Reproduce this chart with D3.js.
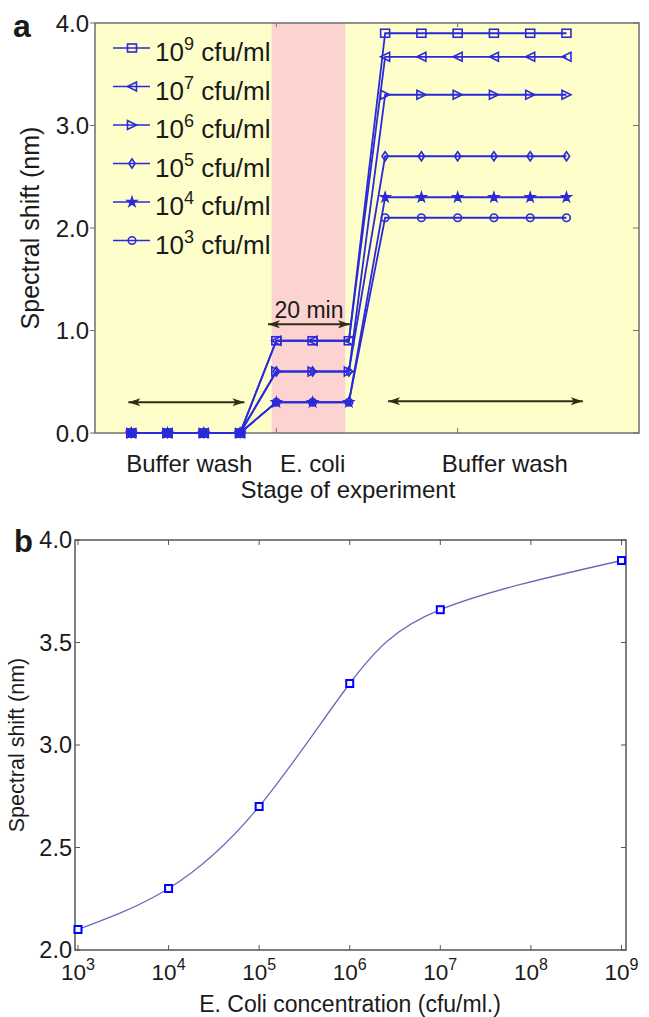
<!DOCTYPE html>
<meta charset="utf-8">
<script src="https://d3js.org/d3.v7.min.js"></script>
<style>
body{margin:0;background:#fff}
text{font-family:"Liberation Sans",Arial,Helvetica,sans-serif;fill:#1a1a1a}
</style>
<body>
<svg width="649" height="1017"></svg>
<script>

// ---- panel a data ----
let stageX = [1,2,3,4,5,6,7,8,9,10,11,12,13]
let seriesExp = ['9','7','6','5','4','3']
let seriesMarker = ['square','left','right','diamond','star','circle']
let shift1e9 = [0,0,0,0,0.9,0.9,0.9,3.9,3.9,3.9,3.9,3.9,3.9]
let shift1e7 = [0,0,0,0,0.9,0.9,0.9,3.67,3.67,3.67,3.67,3.67,3.67]
let shift1e6 = [0,0,0,0,0.6,0.6,0.6,3.3,3.3,3.3,3.3,3.3,3.3]
let shift1e5 = [0,0,0,0,0.6,0.6,0.6,2.7,2.7,2.7,2.7,2.7,2.7]
let shift1e4 = [0,0,0,0,0.3,0.3,0.3,2.3,2.3,2.3,2.3,2.3,2.3]
let shift1e3 = [0,0,0,0,0.3,0.3,0.3,2.1,2.1,2.1,2.1,2.1,2.1]
let seriesA = [shift1e9,shift1e7,shift1e6,shift1e5,shift1e4,shift1e3]
let yTicksA = [0,1,2,3,4]
let xTicksA = [5,10]
let stageLabels = ['Buffer wash','E. coli','Buffer wash']
let stageLabelX = [2.6,6,11.3]
let ecoliBand = [4.87,6.9]
// arrows: [x1, x2, y] in data units
let arrowsA = [[0.92,4.12,0.3],[4.77,7.03,1.06],[8.08,13.45,0.31]]

// ---- panel b data ----
let conc = [1e3,1e4,1e5,1e6,1e7,1e9]
let shiftB = [2.1,2.3,2.7,3.3,3.66,3.9]
let xTicksB = [1e3,1e4,1e5,1e6,1e7,1e8,1e9]
let yTicksB = [2.0,2.5,3.0,3.5,4.0]

let blue = '#2a2ad8', axisCol = '#6f6f6f', arrowCol = '#2e2e12'
let svg = d3.select('svg')
let defs = svg.append('defs')
defs.append('marker').attr('id','ah').attr('viewBox','0 0 12 8')
    .attr('refX',12).attr('refY',4).attr('markerUnits','userSpaceOnUse')
    .attr('markerWidth',13).attr('markerHeight',8).attr('orient','auto-start-reverse')
  .append('path').attr('d','M0,0 L12,4 L0,8 L3,4 Z').attr('fill',arrowCol)

// ================= panel a =================
let xA = d3.scaleLinear().domain([0,15]).range([95,639])
let yA = d3.scaleLinear().domain([0,4]).range([433,23])
let ga = svg.append('g')

ga.append('rect').attr('x',xA(0)).attr('y',yA(4)).attr('width',xA(15)-xA(0)).attr('height',yA(0)-yA(4))
    .attr('fill','#fefecb')
ga.append('rect').attr('x',xA(ecoliBand[0])).attr('y',yA(4)).attr('width',xA(ecoliBand[1])-xA(ecoliBand[0]))
    .attr('height',yA(0)-yA(4)).attr('fill','#fcd3d0')

// box + ticks
ga.append('rect').attr('x',xA(0)).attr('y',yA(4)).attr('width',xA(15)-xA(0)).attr('height',yA(0)-yA(4))
    .attr('fill','none').attr('stroke',axisCol).attr('stroke-width',1.5)
xTicksA.forEach(t=>{
    ga.append('line').attr('x1',xA(t)).attr('x2',xA(t)).attr('y1',yA(4)).attr('y2',yA(4)+4).attr('stroke',axisCol)
    ga.append('line').attr('x1',xA(t)).attr('x2',xA(t)).attr('y1',yA(0)).attr('y2',yA(0)-5).attr('stroke',axisCol)
})
yTicksA.forEach(t=>{
    ga.append('line').attr('x1',xA(0)-5).attr('x2',xA(0)).attr('y1',yA(t)).attr('y2',yA(t)).attr('stroke',axisCol)
    ga.append('line').attr('x1',xA(15)-6).attr('x2',xA(15)).attr('y1',yA(t)).attr('y2',yA(t)).attr('stroke',axisCol)
    ga.append('text').attr('x',xA(0)-6).attr('y',yA(t)).attr('dy','0.36em').attr('text-anchor','end')
        .attr('font-size',24).text(d3.format('.1f')(t))
})

// arrows
arrowsA.forEach(a=>{
    ga.append('line').attr('x1',xA(a[0])).attr('x2',xA(a[1])).attr('y1',yA(a[2])).attr('y2',yA(a[2]))
        .attr('stroke',arrowCol).attr('stroke-width',2)
        .attr('marker-start','url(#ah)').attr('marker-end','url(#ah)')
})
ga.append('text').attr('x',xA(5.9)).attr('y',318).attr('text-anchor','middle').attr('font-size',23).text('20 min')

function marker(sel, type, x, y, size){
    let s = size || 9
    let g = sel.append('g').attr('transform',`translate(${x},${y})`)
    if(type=='square') g.append('rect').attr('x',-s/2).attr('y',-s/2+0.5).attr('width',s).attr('height',s-1)
        .attr('fill','none').attr('stroke',blue).attr('stroke-width',1.6)
    else if(type=='left' || type=='right'){
        let k = type=='left' ? -1 : 1
        g.append('path').attr('d',`M${k*s/2},0 L${-k*s/2},${-s/2} L${-k*s/2},${s/2} Z`)
            .attr('fill','none').attr('stroke',blue).attr('stroke-width',1.6)
    }
    else if(type=='diamond') g.append('path').attr('d',`M0,${-s/2} L${s*0.35},0 L0,${s/2} L${-s*0.35},0 Z`)
        .attr('fill','none').attr('stroke',blue).attr('stroke-width',1.6)
    else if(type=='star') g.append('path').attr('d',d3.symbol(d3.symbolStar,s*s*0.4)())
        .attr('fill',blue).attr('stroke',blue).attr('stroke-width',1.2)
    else g.append('circle').attr('r',s*0.42).attr('fill','none').attr('stroke',blue).attr('stroke-width',1.6)
}

let lineA = d3.line().x((d,i)=>xA(stageX[i])).y(d=>yA(d))
seriesA.slice().reverse().forEach((s,ri)=>{
    let i = seriesA.length-1-ri
    ga.append('path').attr('d',lineA(s)).attr('fill','none').attr('stroke',blue).attr('stroke-width',1.8)
    s.forEach((v,j)=>marker(ga, seriesMarker[i], xA(stageX[j]), yA(v)))
})

// legend
seriesExp.forEach((e,i)=>{
    let y = 48 + i*38.5
    ga.append('line').attr('x1',113).attr('x2',150).attr('y1',y).attr('y2',y).attr('stroke',blue).attr('stroke-width',1.6)
    marker(ga, seriesMarker[i], 132, y)
    let t = ga.append('text').attr('x',155).attr('y',y+13).attr('font-size',26)
    t.append('tspan').text('10')
    t.append('tspan').attr('dy',-11).attr('font-size',18).text(e)
    t.append('tspan').attr('dy',11).text(' cfu/ml')
})

stageLabels.forEach((l,i)=>{
    ga.append('text').attr('x',xA(stageLabelX[i])).attr('y',472).attr('text-anchor','middle').attr('font-size',24).text(l)
})
ga.append('text').attr('x',348).attr('y',498).attr('text-anchor','middle').attr('font-size',24).text('Stage of experiment')
ga.append('text').attr('transform',`translate(39,${(yA(0)+yA(4))/2}) rotate(-90)`).attr('text-anchor','middle')
    .attr('font-size',25).text('Spectral shift (nm)')
ga.append('text').attr('x',13).attr('y',37).attr('font-size',32).attr('font-weight','bold').text('a')

// ================= panel b =================
let xB = d3.scaleLog().domain([Math.pow(10,2.967),Math.pow(10,9.05)]).range([75,626])
let yB = d3.scaleLinear().domain([2,4]).range([950,540])
let gb = svg.append('g')

gb.append('rect').attr('x',75).attr('y',yB(4)).attr('width',626-75).attr('height',yB(2)-yB(4))
    .attr('fill','none').attr('stroke','#555').attr('stroke-width',1.5)
xTicksB.forEach(t=>{
    gb.append('line').attr('x1',xB(t)).attr('x2',xB(t)).attr('y1',yB(2)).attr('y2',yB(2)-5).attr('stroke','#555')
    gb.append('line').attr('x1',xB(t)).attr('x2',xB(t)).attr('y1',yB(4)).attr('y2',yB(4)+5).attr('stroke','#555')
    let t2 = gb.append('text').attr('x',xB(t)).attr('y',980).attr('text-anchor','middle').attr('font-size',22.5)
    t2.append('tspan').text('10')
    t2.append('tspan').attr('dy',-10).attr('font-size',16).text(Math.round(Math.log10(t)))
})
yTicksB.forEach(t=>{
    gb.append('line').attr('x1',75).attr('x2',80).attr('y1',yB(t)).attr('y2',yB(t)).attr('stroke','#555')
    gb.append('line').attr('x1',626).attr('x2',621).attr('y1',yB(t)).attr('y2',yB(t)).attr('stroke','#555')
    gb.append('text').attr('x',72).attr('y',yB(t)).attr('dy','0.36em').attr('text-anchor','end')
        .attr('font-size',23.5).text(d3.format('.1f')(t))
})

let ptsB = conc.map((c,i)=>({c:c, s:shiftB[i]}))
gb.append('path').attr('d',d3.line().x(d=>xB(d.c)).y(d=>yB(d.s)).curve(d3.curveNatural)(ptsB))
    .attr('fill','none').attr('stroke','#6c6cb4').attr('stroke-width',1.3)
gb.selectAll('rect.pt').data(ptsB).enter().append('rect').attr('class','pt')
    .attr('x',d=>xB(d.c)-3.5).attr('y',d=>yB(d.s)-3.5).attr('width',7).attr('height',7)
    .attr('fill','#f4f4ff').attr('stroke','#0000ff').attr('stroke-width',2)

gb.append('text').attr('x',350).attr('y',1012).attr('text-anchor','middle').attr('font-size',23)
    .text('E. Coli concentration (cfu/ml.)')
gb.append('text').attr('transform',`translate(24,${(yB(2)+yB(4))/2}) rotate(-90)`).attr('text-anchor','middle')
    .attr('font-size',21.5).text('Spectral shift (nm)')
gb.append('text').attr('x',14).attr('y',552).attr('font-size',31).attr('font-weight','bold').text('b')

</script>
</body>
